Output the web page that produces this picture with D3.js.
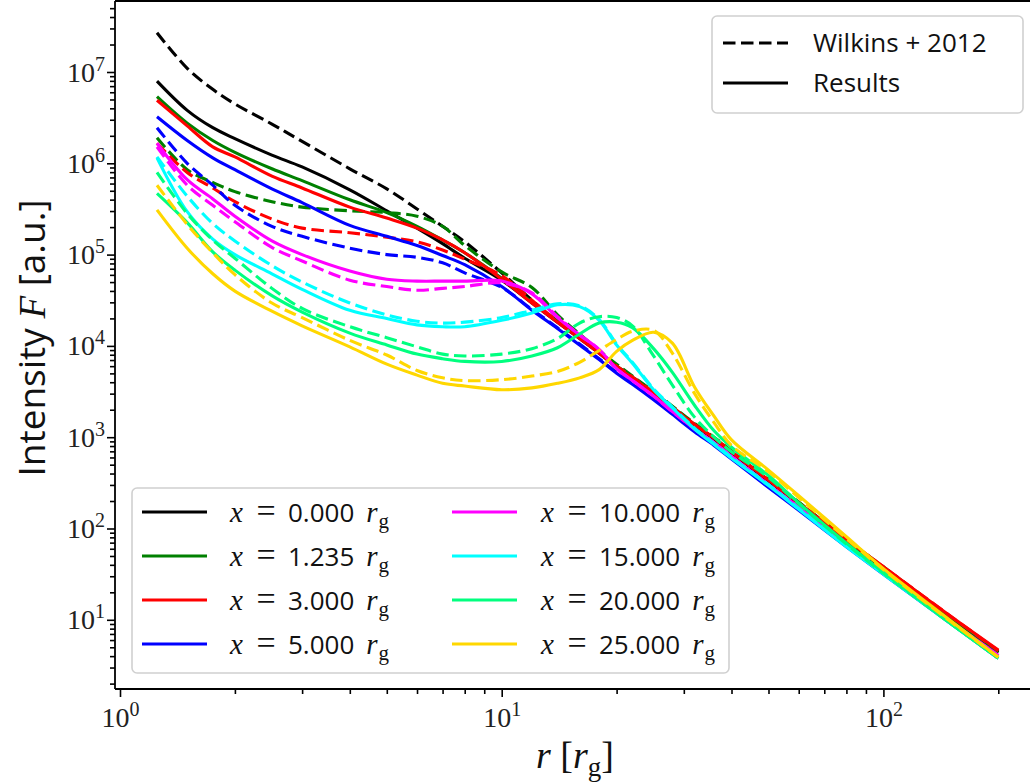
<!DOCTYPE html>
<html><head><meta charset="utf-8">
<script src="https://cdn.jsdelivr.net/npm/d3@7"></script>
<style>body{margin:0;background:#fff}svg{display:block}</style>
</head><body>
<svg id="chart" width="1030" height="782"></svg>
<script>
// ---- data (log10 of intensity) ----
const radii = [1.25,1.5,1.75,2,2.5,3,4,5,6,7,8,10,12,14,16,18,20,22,25,28,32,36,40,50,60,80,100,150,200];
const sourceHeights = ["0.000","1.235","3.000","5.000","10.000","15.000","20.000","25.000"];
const seriesColors = ["#000000","#008000","#ff0000","#0000ff","#ff00ff","#00ffff","#00ff7f","#ffd700"];

const results_x0    = [6.90,6.58,6.39,6.27,6.09,5.96,5.71,5.48,5.29,5.12,4.96,4.72,4.47,4.26,4.08,3.92,3.77,3.65,3.48,3.32,3.13,2.98,2.83,2.52,2.27,1.86,1.56,1.01,0.64];
const wilkins_x0    = [7.43,7.04,6.81,6.65,6.43,6.24,5.94,5.72,5.50,5.31,5.14,4.80,4.50,4.27,4.09,3.93,3.78,3.66,3.49,3.33,3.14,2.99,2.84,2.53,2.28,1.87,1.57,1.02,0.65];
const results_x1235 = [6.73,6.44,6.25,6.12,5.94,5.81,5.60,5.46,5.31,5.16,5.02,4.74,4.48,4.27,4.09,3.93,3.78,3.66,3.49,3.33,3.14,2.99,2.84,2.53,2.28,1.87,1.57,1.02,0.65];
const wilkins_x1235 = [6.28,5.93,5.79,5.69,5.58,5.52,5.48,5.46,5.42,5.31,5.10,4.81,4.64,4.34,4.13,3.95,3.80,3.67,3.50,3.34,3.15,3.00,2.85,2.54,2.29,1.88,1.58,1.03,0.66];
const results_x3    = [6.69,6.41,6.18,6.07,5.86,5.73,5.52,5.40,5.29,5.16,5.02,4.73,4.47,4.26,4.08,3.92,3.77,3.65,3.48,3.32,3.14,2.99,2.84,2.53,2.28,1.88,1.58,1.04,0.67];
const wilkins_x3    = [6.22,5.90,5.73,5.58,5.39,5.29,5.24,5.19,5.14,5.05,4.95,4.77,4.50,4.27,4.09,3.93,3.78,3.66,3.49,3.33,3.14,2.99,2.84,2.53,2.28,1.88,1.58,1.04,0.66];
const results_x5    = [6.51,6.25,6.06,5.93,5.72,5.57,5.32,5.20,5.10,4.99,4.89,4.65,4.39,4.19,4.01,3.85,3.70,3.58,3.41,3.25,3.06,2.91,2.76,2.45,2.20,1.80,1.50,0.96,0.58];
const wilkins_x5    = [6.39,6.00,5.76,5.54,5.31,5.20,5.07,5.00,4.97,4.91,4.80,4.64,4.40,4.20,4.02,3.86,3.71,3.59,3.42,3.26,3.07,2.92,2.77,2.46,2.21,1.81,1.51,0.97,0.59];
const results_x10   = [6.22,5.82,5.61,5.42,5.15,5.00,4.82,4.73,4.71,4.71,4.71,4.71,4.57,4.31,4.12,3.96,3.75,3.62,3.45,3.28,3.09,2.94,2.79,2.48,2.23,1.82,1.52,0.98,0.61];
const wilkins_x10   = [6.18,5.76,5.54,5.36,5.08,4.93,4.72,4.65,4.61,4.63,4.65,4.69,4.58,4.32,4.12,3.96,3.75,3.62,3.45,3.28,3.09,2.94,2.79,2.48,2.23,1.82,1.52,0.98,0.61];
const results_x15   = [6.06,5.47,5.17,5.00,4.79,4.62,4.39,4.30,4.23,4.21,4.21,4.28,4.36,4.45,4.43,4.28,4.01,3.81,3.52,3.32,3.09,2.92,2.77,2.47,2.21,1.80,1.50,0.96,0.58];
const wilkins_x15   = [6.07,5.64,5.34,5.15,4.88,4.70,4.47,4.34,4.27,4.25,4.26,4.31,4.39,4.46,4.44,4.29,4.02,3.82,3.53,3.33,3.10,2.93,2.78,2.48,2.22,1.81,1.51,0.97,0.59];
const results_x20   = [5.67,5.35,5.03,4.83,4.55,4.37,4.14,4.01,3.91,3.86,3.83,3.83,3.89,3.98,4.13,4.25,4.26,4.20,3.97,3.71,3.35,3.07,2.89,2.58,2.28,1.84,1.52,0.96,0.58];
const wilkins_x20   = [5.90,5.45,5.16,4.96,4.63,4.41,4.21,4.09,3.99,3.91,3.89,3.91,3.97,4.08,4.25,4.32,4.31,4.22,3.89,3.57,3.22,3.00,2.84,2.56,2.27,1.83,1.51,0.96,0.58];
const results_x25   = [5.49,5.07,4.79,4.60,4.38,4.22,3.99,3.80,3.68,3.59,3.56,3.52,3.54,3.59,3.65,3.74,3.94,4.06,4.15,4.03,3.55,3.23,2.97,2.64,2.36,1.91,1.56,0.99,0.59];
const wilkins_x25   = [5.76,5.33,5.02,4.78,4.47,4.31,4.06,3.90,3.73,3.65,3.62,3.63,3.67,3.72,3.82,3.95,4.07,4.16,4.17,3.92,3.48,3.16,2.91,2.62,2.34,1.89,1.55,0.98,0.59];

const resultsSeries = [results_x0,results_x1235,results_x3,results_x5,results_x10,results_x15,results_x20,results_x25];
const wilkinsSeries = [wilkins_x0,wilkins_x1235,wilkins_x3,wilkins_x5,wilkins_x10,wilkins_x15,wilkins_x20,wilkins_x25];
const xMajorTicks = [1,10,100];
const yMajorTicks = [1e1,1e2,1e3,1e4,1e5,1e6,1e7];
const styleLegendLabels = ["Wilkins + 2012","Results"];

// ---- layout ----
const W = 1030, H = 782;
const plotL = 115, plotT = 1, plotR = 1060, plotB = 689;
const SERIF = "'Liberation Serif','DejaVu Serif',serif";
const SANS = "'Open Sans','Noto Sans',sans-serif";
const DASH = "12.5,5.5", LW = 3.1;

const svg = d3.select("#chart");

const x = d3.scaleLog().domain([1,100]).range([120,883.4]);
x.domain([x.invert(plotL), x.invert(plotR)]).range([plotL, plotR]);
const y = d3.scaleLog().domain([1e2,1e6]).range([528.5,163.3]);
y.domain([y.invert(plotB), y.invert(plotT)]).range([plotB, plotT]);

svg.append("defs").append("clipPath").attr("id","clip")
  .append("rect").attr("x",plotL).attr("y",plotT).attr("width",plotR-plotL).attr("height",plotB-plotT);

function minorTicks(scale){
  const [a,b] = scale.domain().slice().sort((p,q)=>p-q);
  const out=[];
  for(let e=Math.floor(Math.log10(a)); e<=Math.ceil(Math.log10(b)); e++){
    for(let m=2;m<=9;m++){const v=m*Math.pow(10,e); if(v>=a&&v<=b) out.push(v);}
  }
  return out;
}

const gx = svg.append("g").attr("transform",`translate(0,${plotB})`);
gx.append("g").call(d3.axisBottom(x).tickValues(minorTicks(x)).tickSize(5).tickFormat(""))
  .call(g=>g.select(".domain").remove());
const gxMaj = gx.append("g").call(d3.axisBottom(x).tickValues(xMajorTicks).tickSize(8).tickPadding(11))
  .call(g=>g.select(".domain").remove());
const gy = svg.append("g").attr("transform",`translate(${plotL},0)`);
gy.append("g").call(d3.axisLeft(y).tickValues(minorTicks(y)).tickSize(5).tickFormat(""))
  .call(g=>g.select(".domain").remove());
const gyMaj = gy.append("g").call(d3.axisLeft(y).tickValues(yMajorTicks).tickSize(8).tickPadding(11))
  .call(g=>g.select(".domain").remove());
svg.selectAll(".tick line").attr("stroke","#000").attr("stroke-width",1.6);

function powerLabel(sel){
  sel.each(function(d){
    const t=d3.select(this); const e=Math.round(Math.log10(d));
    t.text(null).attr("font-family",SERIF).attr("font-size",28).attr("fill","#222");
    t.append("tspan").text("10");
    t.append("tspan").attr("dy",-11).attr("font-size",20).text(e);
  });
}
gxMaj.selectAll(".tick text").call(powerLabel).attr("dy",null).attr("y",38);
gyMaj.selectAll(".tick text").call(powerLabel).attr("dy",null).attr("y",9).attr("x",-10);

// ---- lines ----
const line = d3.line().x(d=>x(d[0])).y(d=>y(d[1])).curve(d3.curveCatmullRom.alpha(0.5));
const gl = svg.append("g").attr("clip-path","url(#clip)");
sourceHeights.forEach((h,i)=>{
  const wd = radii.map((r,j)=>[r, Math.pow(10, wilkinsSeries[i][j])]);
  const rd = radii.map((r,j)=>[r, Math.pow(10, resultsSeries[i][j])]);
  gl.append("path").attr("d",line(wd)).attr("fill","none").attr("stroke",seriesColors[i])
    .attr("stroke-width",LW).attr("stroke-dasharray",DASH);
  gl.append("path").attr("d",line(rd)).attr("fill","none").attr("stroke",seriesColors[i])
    .attr("stroke-width",LW).attr("stroke-linejoin","round");
});

// spines
svg.append("line").attr("x1",plotL).attr("x2",W).attr("y1",plotT).attr("y2",plotT).attr("stroke","#000").attr("stroke-width",1.8);
svg.append("line").attr("x1",plotL).attr("x2",W).attr("y1",plotB).attr("y2",plotB).attr("stroke","#000").attr("stroke-width",1.8);
svg.append("line").attr("x1",plotL).attr("x2",plotL).attr("y1",plotT).attr("y2",plotB).attr("stroke","#000").attr("stroke-width",1.8);

// axis labels
const yl = svg.append("text").attr("transform","translate(45,338) rotate(-90)")
  .attr("text-anchor","middle").attr("font-size",37).attr("fill","#111");
yl.append("tspan").attr("font-family",SANS).text("Intensity ");
yl.append("tspan").attr("font-family",SERIF).attr("font-style","italic").text("F");
yl.append("tspan").attr("font-family",SANS).text(" [a.u.]");

const xl = svg.append("text").attr("x",575).attr("y",768).attr("text-anchor","middle")
  .attr("font-size",38).attr("font-family",SERIF).attr("fill","#111");
xl.append("tspan").attr("font-style","italic").text("r");
xl.append("tspan").text(" [");
xl.append("tspan").attr("font-style","italic").text("r");
xl.append("tspan").attr("dy",8).attr("font-size",27).text("g");
xl.append("tspan").attr("dy",-8).text("]");

// ---- legend 1 (source heights) ----
const lg = svg.append("g");
lg.append("rect").attr("x",132).attr("y",488).attr("width",597).attr("height",185).attr("rx",5)
  .attr("fill","#fff").attr("fill-opacity",0.85).attr("stroke","#d0d0d0").attr("stroke-width",1.6);
sourceHeights.forEach((h,i)=>{
  const col = Math.floor(i/4), row = i%4;
  const lx = col? 452:142, tx = col? 541:230, cy = 512 + row*44;
  lg.append("line").attr("x1",lx).attr("x2",lx+65).attr("y1",cy).attr("y2",cy)
    .attr("stroke",seriesColors[i]).attr("stroke-width",LW);
  const base = cy + 10;
  lg.append("text").attr("x",tx).attr("y",base).attr("font-family",SERIF).attr("font-style","italic")
    .attr("font-size",29).attr("fill","#111").text("x");
  lg.append("text").attr("x",tx+36).attr("y",base).attr("text-anchor","middle").attr("font-family",SERIF)
    .attr("font-size",34).attr("fill","#111").text("=");
  const num = lg.append("text").attr("x",tx+58).attr("y",base).attr("font-family",SANS)
    .attr("font-size",26).attr("fill","#111").text(h);
  const nw = num.node().getComputedTextLength();
  const rt = lg.append("text").attr("x",tx+58+nw+12).attr("y",base).attr("font-family",SERIF)
    .attr("font-size",29).attr("fill","#111");
  rt.append("tspan").attr("font-style","italic").text("r");
  rt.append("tspan").attr("font-size",21).attr("dy",6).attr("dx",1).text("g");
});

// ---- legend 2 (line styles) ----
const lg2 = svg.append("g");
lg2.append("rect").attr("x",712).attr("y",16).attr("width",311).attr("height",97).attr("rx",5)
  .attr("fill","#fff").attr("fill-opacity",0.85).attr("stroke","#d0d0d0").attr("stroke-width",1.6);
styleLegendLabels.forEach((lab,i)=>{
  const cy = 43 + i*40;
  lg2.append("line").attr("x1",723).attr("x2",788).attr("y1",cy).attr("y2",cy)
    .attr("stroke","#000").attr("stroke-width",LW).attr("stroke-dasharray", i===0?DASH:null);
  lg2.append("text").attr("x",813).attr("y",cy+9).attr("font-family",SANS).attr("font-size",26)
    .attr("fill","#111").text(lab);
});
</script>
</body></html>
